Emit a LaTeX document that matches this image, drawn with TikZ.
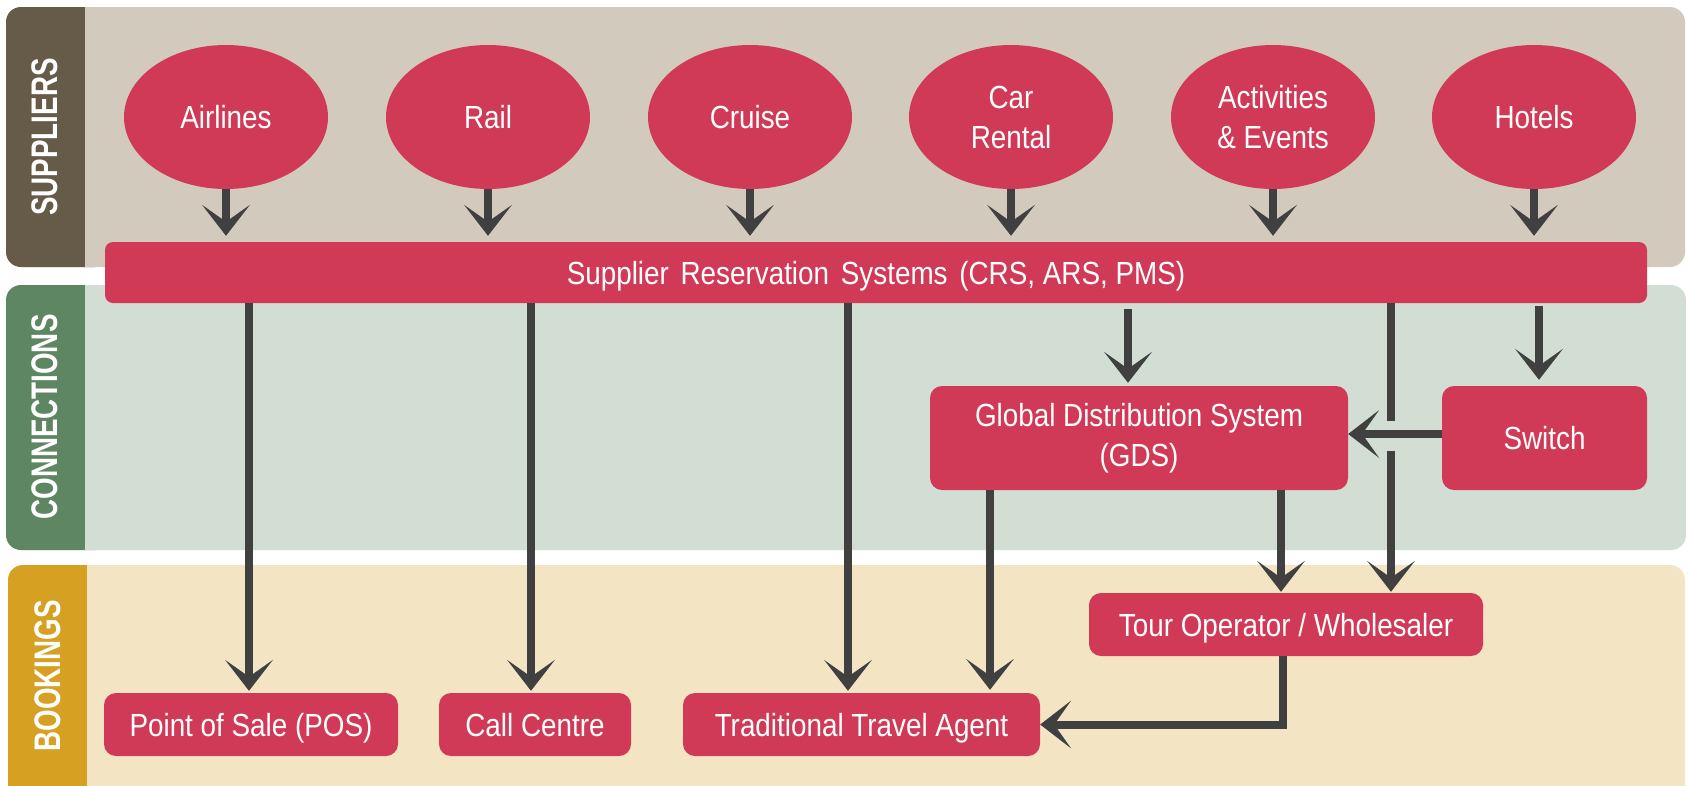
\documentclass[tikz,border=0pt]{standalone}
\usepackage{fontspec}
\setmainfont{Liberation Sans}[FakeStretch=0.87]
\newfontfamily\sidefont{Liberation Sans}[FakeStretch=0.75]
\usetikzlibrary{arrows.meta,shapes.geometric,calc}
\definecolor{supbg}{HTML}{D2CBBD}
\definecolor{supstrip}{HTML}{665A48}
\definecolor{conbg}{HTML}{D2DDD4}
\definecolor{constrip}{HTML}{5F8663}
\definecolor{bookbg}{HTML}{F3E5C3}
\definecolor{bookstrip}{HTML}{D6A123}
\definecolor{redfill}{HTML}{D13A56}
\definecolor{arrowc}{HTML}{404040}
\begin{document}
\begin{tikzpicture}[x=1pt,y=-1pt,
  ell/.style={ellipse,fill=redfill,minimum width=204pt,minimum height=144pt,inner sep=0pt,text=white,font=\fontsize{32}{40}\selectfont,align=center},
  box/.style={rectangle,rounded corners=12pt,fill=redfill,inner sep=0pt,text=white,font=\fontsize{32}{40}\selectfont,align=center},
  onebox/.style={box,text height=30pt,text depth=7pt},
  arr/.style={draw=arrowc,line width=8pt,-{Stealth[length=31pt,width=48pt,inset=17pt,line width=0pt]}},
  side/.style={rotate=90,text=white,font=\sidefont\bfseries\fontsize{37}{40}\selectfont}
]
\useasboundingbox (0,0) rectangle (1690,785);
\clip (0,0) rectangle (1690,785);
% bands
\fill[supbg, rounded corners=15pt] (6,7) rectangle (1685,267);
\fill[supstrip, rounded corners=15pt] (6,7) rectangle (110,267);
\fill[supbg] (85,7) rectangle (130,267);
\fill[conbg, rounded corners=15pt] (6,285) rectangle (1686,550);
\fill[constrip, rounded corners=15pt] (6,285) rectangle (110,550);
\fill[conbg] (85,285) rectangle (130,550);
\fill[bookbg, rounded corners=15pt] (8,565) rectangle (1685,810);
\fill[bookstrip, rounded corners=15pt] (8,565) rectangle (110,810);
\fill[bookbg] (87,565) rectangle (130,810);
\node[side] (lsup) at (45,137) {SUPPLIERS};
\node[side] (lcon) at (45,417) {CONNECTIONS};
\node[side] (lbook) at (48,676) {BOOKINGS};
% suppliers
\node[ell] (air) at (226,117) {Airlines};
\node[ell] (rail) at (488,117) {Rail};
\node[ell] (cruise) at (750,117) {Cruise};
\node[ell] (car) at (1011,117) {Car\\Rental};
\node[ell] (act) at (1273,117) {Activities\\\& Events};
\node[ell] (hot) at (1534,117) {Hotels};
\node[onebox, rounded corners=8pt, minimum width=1542pt, minimum height=61pt] (srs) at (876,272.5) {Supplier\hspace{4pt} Reservation\hspace{4pt} Systems\hspace{4pt} (CRS, ARS, PMS)};
\node[box, minimum width=418pt, minimum height=104pt] (gds) at (1139,438) {Global Distribution System\\(GDS)};
\node[onebox, minimum width=205pt, minimum height=104pt] (sw) at (1544.5,438) {Switch};
\node[onebox, minimum width=394pt, minimum height=63pt] (to) at (1286,624.5) {Tour Operator / Wholesaler};
\node[onebox, minimum width=294pt, minimum height=63pt] (pos) at (251,724.5) {Point of Sale (POS)};
\node[onebox, minimum width=192pt, minimum height=63pt] (cc) at (535,724.5) {Call Centre};
\node[onebox, minimum width=357pt, minimum height=63pt] (tta) at (861.5,724.5) {Traditional Travel Agent};
% helper coordinates
\coordinate (xa) at (249,0);
\coordinate (xb) at (531,0);
\coordinate (xc) at (848,0);
\coordinate (xd) at (1128,0);
\coordinate (xe) at (1391,0);
\coordinate (xf) at (1539,0);
\coordinate (xg) at (1281,0);
\coordinate (xh) at (990,0);
\coordinate (xi) at (1283,0);
\coordinate (ys) at (0,434);
% arrows
\foreach \n in {air,rail,cruise,car,act,hot}
  \draw[arr, shorten >=6pt] (\n.south) -- (\n.south |- srs.north);
\draw[arr, shorten >=2pt] (srs.south -| xa) -- (pos.north -| xa);
\draw[arr, shorten >=2pt] (srs.south -| xb) -- (cc.north -| xb);
\draw[arr, shorten >=2pt] (srs.south -| xc) -- (tta.north -| xc);
\draw[arr, shorten <=6pt, shorten >=3pt] (srs.south -| xd) -- (gds.north -| xd);
\draw[arr, shorten <=3pt, shorten >=6pt] (srs.south -| xf) -- (sw.north -| xf);
\draw[arr, shorten >=1pt] (srs.south -| xe) -- (to.north -| xe);
\fill[conbg] (1385,421) rectangle (1397,451);
\draw[arr] (sw.west |- ys) -- (gds.east |- ys);
\draw[arr, shorten >=1pt] (gds.south -| xg) -- (to.north -| xg);
\draw[arr, shorten >=3pt] (gds.south -| xh) -- (tta.north -| xh);
\draw[arr] (to.south -| xi) |- (tta.east);
\end{tikzpicture}
\end{document}
